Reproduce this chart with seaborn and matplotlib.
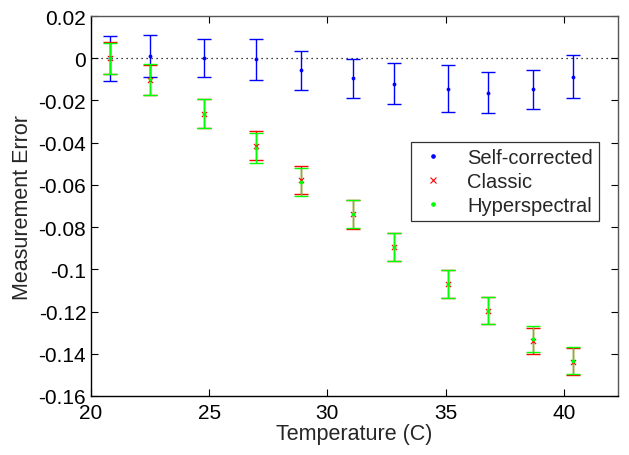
"""
Measurement error vs temperature for three correction methods.
"""

import numpy as np
import pandas as pd
import matplotlib
matplotlib.use("Agg")
import matplotlib.pyplot as plt
from matplotlib.lines import Line2D
from matplotlib.ticker import FuncFormatter
import seaborn as sns

# Data
temps = [20.8, 22.5, 24.8, 27.0, 28.9, 31.1, 32.8, 35.1, 36.8, 38.7, 40.4]

self_corrected = [0.0, 0.001, 0.0, -0.0006, -0.0058, -0.0096, -0.012,
                  -0.0144, -0.0163, -0.0148, -0.0087]
self_err = [0.0106, 0.0098, 0.009, 0.0096, 0.0092, 0.0092, 0.0096,
            0.011, 0.0096, 0.0091, 0.0101]

classic = [0.0, -0.0104, -0.0262, -0.0414, -0.0578, -0.074, -0.0894,
           -0.1068, -0.1196, -0.1338, -0.1437]
classic_err = [0.0075, 0.0071, 0.007, 0.007, 0.0066, 0.0067, 0.0067,
               0.0067, 0.0064, 0.0062, 0.0062]

hyperspectral = [0.0, -0.0100, -0.0262, -0.0424, -0.0588, -0.0738, -0.0894,
                 -0.1068, -0.1196, -0.1331, -0.1432]
hyper_err = [0.0073, 0.0072, 0.007, 0.007, 0.0066, 0.0065, 0.0067,
             0.0067, 0.0064, 0.0062, 0.0065]

series_names = ["Self-corrected", "Classic", "Hyperspectral"]
series_colors = ["#0000ff", "#ff0000", "#00ff00"]
series_markers = [".", "x", "."]

x_ticks = [20, 25, 30, 35, 40]
y_ticks = [0.02, 0, -0.02, -0.04, -0.06, -0.08, -0.1, -0.12, -0.14, -0.16]

# Estilo
sns.set_style("ticks")
plt.rcParams["font.family"] = ["Liberation Sans", "DejaVu Sans"]
plt.rcParams["axes.unicode_minus"] = False

df = pd.DataFrame({
    "temp": temps * 3,
    "error": self_corrected + classic + hyperspectral,
    "err": self_err + classic_err + hyper_err,
    "method": sum([[n] * len(temps) for n in series_names], []),
})

fig = plt.figure(figsize=(6.29, 4.56), dpi=100)
ax = fig.add_axes([0.1447, 0.1294, 0.838, 0.8333])

ax.axhline(0, color="black", linestyle=(0, (1, 3)), linewidth=0.9, zorder=1)

for name, color, marker in zip(series_names, series_colors, series_markers):
    sub = df[df["method"] == name]
    ax.errorbar(
        sub["temp"], sub["error"], yerr=sub["err"],
        fmt="none", ecolor=color, elinewidth=1.0, capsize=4.7,
        capthick=1.0, zorder=2,
    )
    sns.scatterplot(
        data=sub, x="temp", y="error", ax=ax, color=color, marker=marker,
        s=30 if marker == "." else 14, linewidth=0.8 if marker == "x" else 0,
        edgecolor=color if marker == "." else None, zorder=3, legend=False,
    )

ax.set_xlim(20, 42.3)
ax.set_ylim(-0.16, 0.02)
ax.set_xticks(x_ticks)
ax.set_yticks(y_ticks)
ax.yaxis.set_major_formatter(FuncFormatter(lambda v, p: f"{v:g}"))
ax.tick_params(direction="in", length=5, top=True, right=True,
               labelsize=15, width=0.8, colors="black")
ax.tick_params(axis="x", pad=5)
ax.set_xlabel("Temperature (C)", fontsize=15.5, labelpad=1)
ax.set_ylabel("Measurement Error", fontsize=15.5, labelpad=4)

for side in ["left", "bottom"]:
    ax.spines[side].set_color("black")
for side in ["top", "right"]:
    ax.spines[side].set_visible(True)
    ax.spines[side].set_color("#555555")
for sp in ax.spines.values():
    sp.set_linewidth(1.0)

handles = [
    Line2D([], [], linestyle="none", marker=m, color=c,
           markersize=5 if m == "." else 4, markeredgewidth=0.8)
    for c, m in zip(series_colors, series_markers)
]
leg = ax.legend(
    handles, series_names, loc="upper right", bbox_to_anchor=(0.964, 0.668),
    borderaxespad=0, fontsize=14.5, frameon=True, fancybox=False,
    edgecolor="black", handlelength=1.6, borderpad=0.3, labelspacing=0.25,
    handletextpad=0.9,
)
leg.get_frame().set_linewidth(0.9)

plt.savefig("out.png", dpi=100)
plt.close()
